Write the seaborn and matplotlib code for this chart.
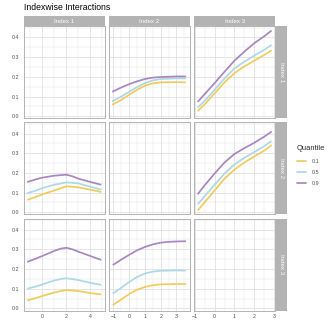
import numpy as np
import pandas as pd
import matplotlib
matplotlib.use("Agg")
import matplotlib.pyplot as plt
import seaborn as sns
from matplotlib.ticker import MultipleLocator
from matplotlib.lines import Line2D

sns.set_style("white")
plt.rcParams["font.family"] = ["Liberation Sans", "DejaVu Sans"]

# ---------------- data ----------------
indices = ["Index 1", "Index 2", "Index 3"]
quantiles = ["0.1", "0.5", "0.9"]
palette = ["#F1CB5C", "#ADD8E6", "#A886C0"]
title = "Indexwise Interactions"
legend_title = "Quantile"

# row Index 1, column Index 2
x_r1c2 = [-1.08, -0.5, 0, 0.5, 1, 1.5, 2, 3, 3.6]
q1_r1c2 = [0.058, 0.083, 0.109, 0.134, 0.155, 0.167, 0.172, 0.173, 0.172]
q5_r1c2 = [0.075, 0.100, 0.124, 0.148, 0.168, 0.182, 0.189, 0.192, 0.192]
q9_r1c2 = [0.124, 0.146, 0.163, 0.177, 0.189, 0.196, 0.199, 0.202, 0.202]

# row Index 1, column Index 3
x_r1c3 = [-0.85, -0.5, 0, 0.5, 1, 1.5, 2, 2.5, 2.87]
q1_r1c3 = [0.026, 0.060, 0.116, 0.172, 0.219, 0.253, 0.282, 0.311, 0.335]
q5_r1c3 = [0.044, 0.078, 0.134, 0.192, 0.243, 0.277, 0.308, 0.337, 0.362]
q9_r1c3 = [0.073, 0.112, 0.168, 0.226, 0.282, 0.328, 0.371, 0.406, 0.435]

# row Index 2, column Index 1
x_r2c1 = [-1.25, -0.5, 0, 1, 2, 2.5, 3, 4, 4.9]
q1_r2c1 = [0.063, 0.079, 0.091, 0.111, 0.132, 0.130, 0.127, 0.115, 0.103]
q5_r2c1 = [0.097, 0.111, 0.123, 0.140, 0.152, 0.150, 0.147, 0.130, 0.115]
q9_r2c1 = [0.154, 0.168, 0.176, 0.186, 0.191, 0.183, 0.171, 0.154, 0.140]

# row Index 2, column Index 3
x_r2c3 = [-0.85, -0.5, 0, 0.5, 1, 1.5, 2, 2.5, 2.87]
q1_r2c3 = [0.009, 0.051, 0.111, 0.171, 0.217, 0.253, 0.284, 0.313, 0.342]
q5_r2c3 = [0.041, 0.082, 0.140, 0.197, 0.243, 0.277, 0.306, 0.336, 0.362]
q9_r2c3 = [0.092, 0.137, 0.197, 0.253, 0.296, 0.326, 0.353, 0.384, 0.410]

# row Index 3, column Index 1
x_r3c1 = [-1.25, -0.5, 0, 1, 1.5, 2, 2.5, 3, 4, 4.9]
q1_r3c1 = [0.041, 0.053, 0.063, 0.081, 0.088, 0.093, 0.091, 0.088, 0.078, 0.071]
q5_r3c1 = [0.100, 0.112, 0.122, 0.142, 0.149, 0.153, 0.149, 0.144, 0.130, 0.119]
q9_r3c1 = [0.236, 0.254, 0.266, 0.292, 0.303, 0.308, 0.300, 0.288, 0.266, 0.246]

# row Index 3, column Index 2
x_r3c2 = [-1.04, -0.5, 0, 0.5, 1, 1.5, 2, 2.5, 3, 3.6]
q1_r3c2 = [0.017, 0.046, 0.073, 0.095, 0.109, 0.118, 0.122, 0.123, 0.124, 0.124]
q5_r3c2 = [0.075, 0.105, 0.134, 0.160, 0.177, 0.187, 0.191, 0.192, 0.193, 0.192]
q9_r3c2 = [0.220, 0.248, 0.272, 0.295, 0.312, 0.325, 0.334, 0.338, 0.340, 0.341]

panels = {
    (0, 1): (x_r1c2, [q1_r1c2, q5_r1c2, q9_r1c2]),
    (0, 2): (x_r1c3, [q1_r1c3, q5_r1c3, q9_r1c3]),
    (1, 0): (x_r2c1, [q1_r2c1, q5_r2c1, q9_r2c1]),
    (1, 2): (x_r2c3, [q1_r2c3, q5_r2c3, q9_r2c3]),
    (2, 0): (x_r3c1, [q1_r3c1, q5_r3c1, q9_r3c1]),
    (2, 1): (x_r3c2, [q1_r3c2, q5_r3c2, q9_r3c2]),
}

rows = []
for (r, c), (xs, series) in panels.items():
    for q, vals in zip(quantiles, series):
        for xv, yv in zip(xs, vals):
            rows.append({"row": r, "col": c, "x": xv, "value": yv, "quantile": q})
df = pd.DataFrame(rows)

# ---------------- layout ----------------
W = H = 332
fig = plt.figure(figsize=(W / 100, H / 100), dpi=100)

col_px = [(23.5, 105.0), (108.7, 190.0), (194.0, 275.3)]
row_px = [(26.3, 118.3), (122.4, 214.4), (218.5, 310.5)]
col_xlim = [(-1.56, 5.21), (-1.30, 3.86), (-1.036, 3.056)]
col_major = [[0, 2, 4], [-1, 0, 1, 2, 3], [-1, 0, 1, 2, 3]]
ylim = (-0.0105, 0.4565)

grey70 = "#B3B3B3"
grid_c = "#DEDEDE"
txt_c = "#4D4D4D"
tick_fs = 3.8
strip_fs = 4.4


def axes_rect(x0, x1, y0, y1):
    return [x0 / W, 1 - y1 / H, (x1 - x0) / W, (y1 - y0) / H]


for r in range(3):
    for c in range(3):
        x0, x1 = col_px[c]
        y0, y1 = row_px[r]
        ax = fig.add_axes(axes_rect(x0, x1, y0, y1))
        sub = df[(df["row"] == r) & (df["col"] == c)]
        if len(sub):
            sns.lineplot(data=sub, x="x", y="value", hue="quantile",
                         hue_order=quantiles, palette=palette, ax=ax,
                         legend=False, linewidth=1.25, sort=True)
            for ln in ax.lines:
                ln.set_solid_joinstyle("round")
                ln.set_solid_capstyle("butt")
        ax.set_xlim(*col_xlim[c])
        ax.set_ylim(*ylim)
        ax.set_xlabel("")
        ax.set_ylabel("")
        ax.set_xticks(col_major[c])
        if c == 0:
            ax.set_xticks([-1, 1, 3, 5], minor=True)
        else:
            ax.xaxis.set_minor_locator(MultipleLocator(0.5))
        ax.set_yticks([0.0, 0.1, 0.2, 0.3, 0.4])
        ax.yaxis.set_minor_locator(MultipleLocator(0.05))
        ax.set_axisbelow(True)
        ax.grid(which="major", color=grid_c, linewidth=0.55)
        ax.grid(which="minor", color=grid_c, linewidth=0.3)
        for s in ax.spines.values():
            s.set_color(grey70)
            s.set_linewidth(0.7)
        ax.tick_params(which="minor", length=0)
        ax.tick_params(which="major", length=1.6, width=0.5, color=grey70,
                       labelsize=tick_fs, labelcolor=txt_c, pad=1.2)
        if c == 0:
            ax.set_yticklabels(["0.0", "0.1", "0.2", "0.3", "0.4"])
        else:
            ax.tick_params(axis="y", left=False, labelleft=False)
        if r == 2:
            ax.set_xticklabels([("\u2212" + str(-v)) if v < 0 else str(v)
                                for v in col_major[c]])
        else:
            ax.tick_params(axis="x", bottom=False, labelbottom=False)

# top strips
for c in range(3):
    x0, x1 = col_px[c]
    sax = fig.add_axes(axes_rect(x0, x1, 16.0, 26.3))
    sax.set_facecolor(grey70)
    sax.set_xticks([]); sax.set_yticks([])
    for s in sax.spines.values():
        s.set_visible(False)
    sax.text(0.5, 0.5, indices[c], color="white", fontsize=strip_fs,
             ha="center", va="center", transform=sax.transAxes)

# right strips
for r in range(3):
    y0, y1 = row_px[r]
    sax = fig.add_axes(axes_rect(276.0, 287.0, y0, y1))
    sax.set_facecolor(grey70)
    sax.set_xticks([]); sax.set_yticks([])
    for s in sax.spines.values():
        s.set_visible(False)
    sax.text(0.5, 0.5, indices[r], color="white", fontsize=strip_fs,
             ha="center", va="center", rotation=-90, transform=sax.transAxes)

# title
fig.text(24 / W, 1 - 7 / H, title, fontsize=6.2, ha="left", va="center",
         color="black")

# legend
handles = [Line2D([], [], color=col, linewidth=1.25) for col in palette]
leg = fig.legend(handles, quantiles, title=legend_title, loc="upper left",
                 bbox_to_anchor=(297 / W, 1 - 145.5 / H), frameon=False,
                 fontsize=3.9, title_fontsize=5.4, handlelength=1.7,
                 handletextpad=1.0, labelspacing=1.15, borderaxespad=0,
                 borderpad=0, alignment="left")
for t in leg.get_texts():
    t.set_color(txt_c)

fig.savefig("out.png", dpi=100)
